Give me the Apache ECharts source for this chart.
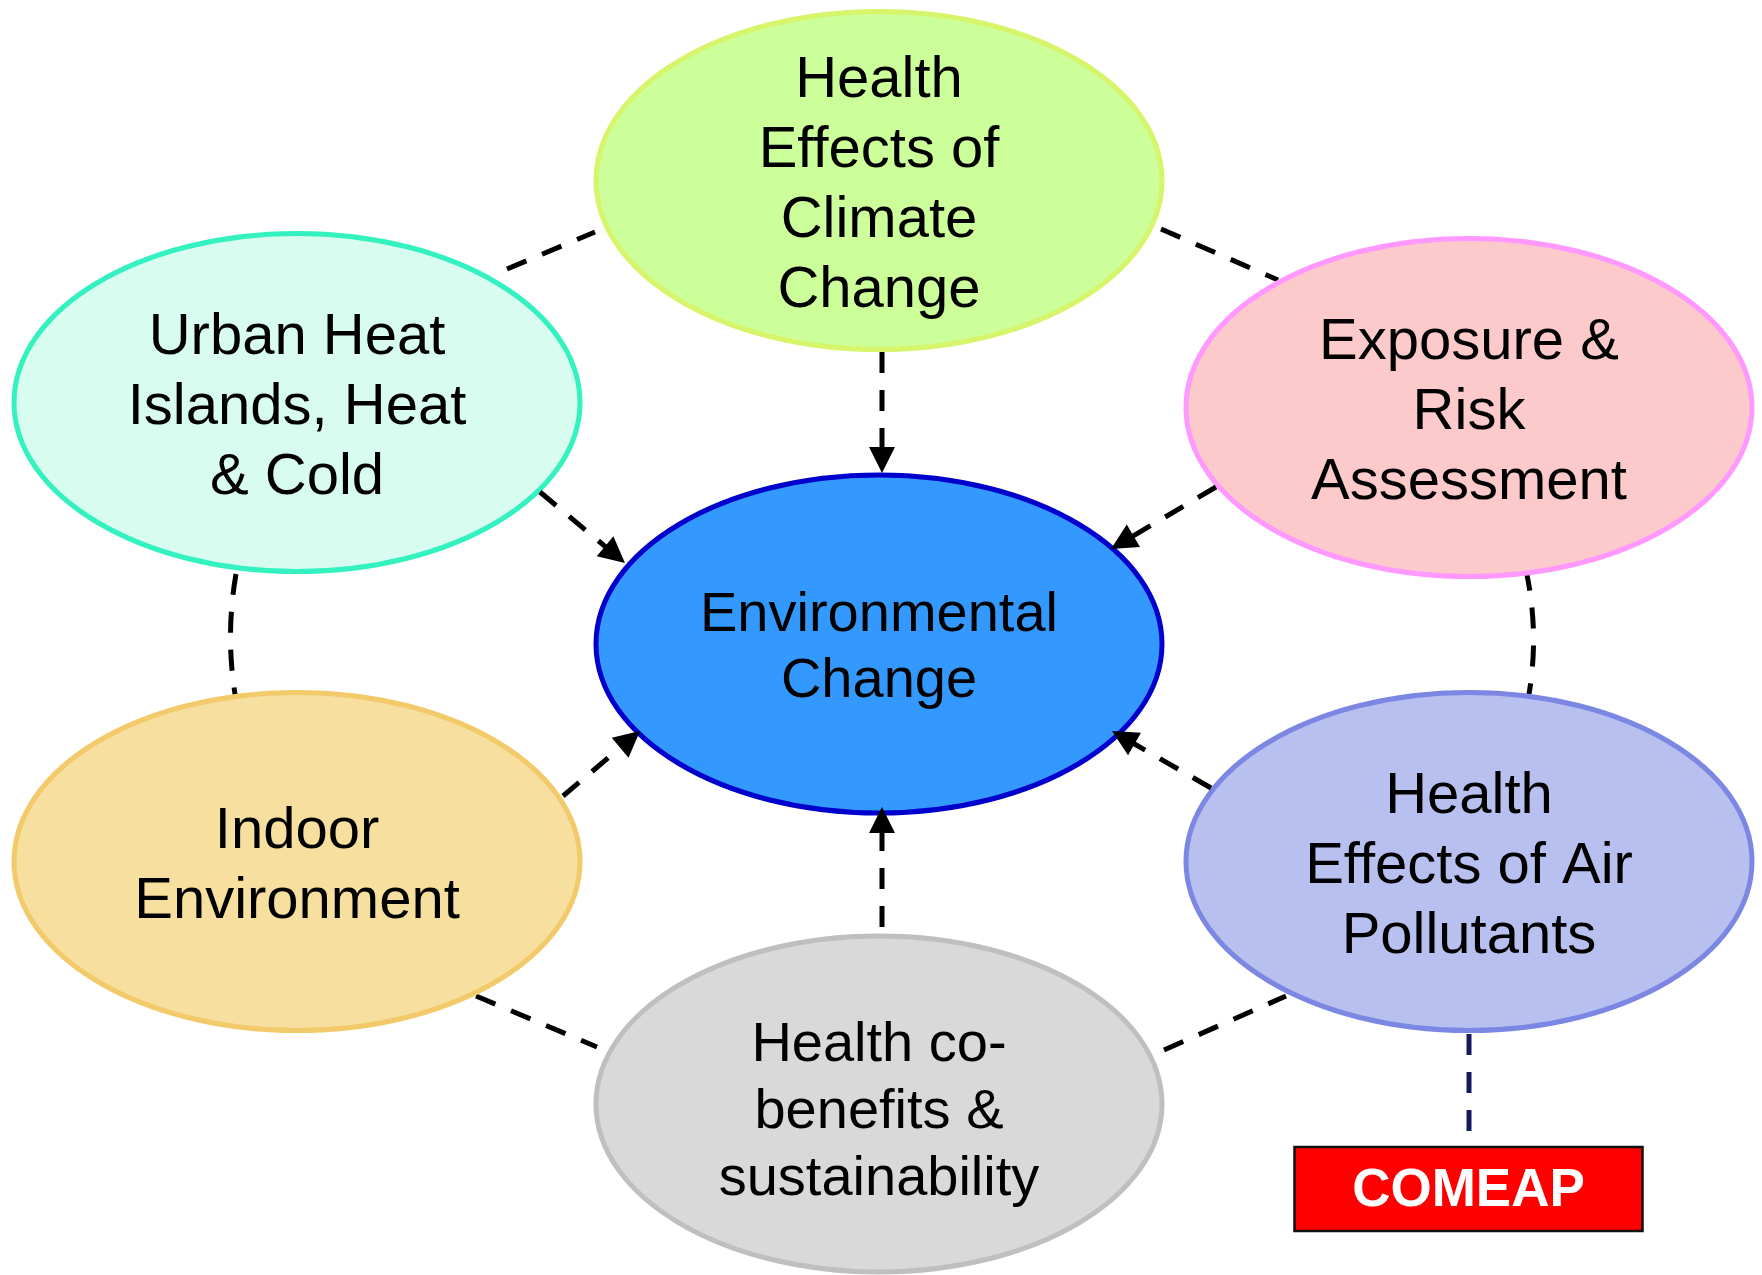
<!DOCTYPE html>
<html>
<head>
<meta charset="utf-8">
<title>Environmental Change</title>
<script src="https://cdn.jsdelivr.net/npm/echarts@6/dist/echarts.min.js"></script>
<style>
  html, body { margin: 0; padding: 0; background: #fff; }
  #chart { width: 1762px; height: 1275px; }
</style>
</head>
<body>
<div id="chart"></div>
<script>
// topics (ellipses) - centres and radii, in px
const nodeNames = [
  'Health\nEffects of\nClimate\nChange',
  'Urban Heat\nIslands, Heat\n& Cold',
  'Exposure &\nRisk\nAssessment',
  'Environmental\nChange',
  'Indoor\nEnvironment',
  'Health\nEffects of Air\nPollutants',
  'Health co-\nbenefits &\nsustainability'
];
const nodeX = [879, 297, 1469, 879, 297, 1469, 879];
const nodeY = [180.5, 402.5, 407.5, 644, 861.5, 861.5, 1104];
const nodeRx = [283, 283, 283, 283, 283, 283, 283];
const nodeRy = [169, 169, 169, 169, 169, 169, 168];

// arrows pointing into the centre
const arrowFrom = [[882, 352], [540, 492], [1216, 487], [563, 796], [1211, 788], [882, 927]];
const arrowTo   = [[882, 473], [625, 563], [1111, 549], [640, 731], [1112, 731], [882, 807]];

// dashed ring between the outer topics (bend = control point, null = straight)
const ringFrom = [[507, 269], [1161, 229], [1526, 570], [236, 574], [476, 996], [1164, 1050]];
const ringTo   = [[595, 232], [1278, 280], [1528, 700], [236, 700], [597, 1047], [1286, 996]];
const ringBend = [null, null, [1540, 635], [225, 637], null, null];

// COMEAP box and its link
const boxLabel = 'COMEAP';
const boxCenter = [1468.5, 1189];
const boxSize = [348, 84];
const boxLinkFrom = [1469, 1034];
const boxLinkTo = [1469, 1146];

// styles
const fills   = ['#CCFF99', '#D9FCF0', '#FCCACA', '#3399FF', '#F7DFA0', '#B8C0F0', '#D9D9D9'];
const strokes = ['#D6F56B', '#33F2C0', '#FF99FF', '#0000CC', '#F2CA6A', '#7C87E4', '#BFBFBF'];
const fontSizes = [58, 58, 58, 56, 58, 58, 56];
const lineHeights = [70, 70, 70, 66, 70, 70, 67];
const textShift = [5, 5, 5, 5, 5, 5, 9];
const FONT = '"Liberation Sans", Arial, Helvetica, sans-serif';
const DASH = [21, 17];

const chart = echarts.init(document.getElementById('chart'));

function ellipseItem(params, api) {
  const i = params.dataIndex;
  const c = api.coord([api.value(0), api.value(1)]);
  const s = api.size([api.value(2), api.value(3)]);
  return {
    type: 'group',
    children: [
      {
        type: 'ellipse',
        shape: { cx: c[0], cy: c[1], rx: s[0], ry: s[1] },
        style: { fill: fills[i], stroke: strokes[i], lineWidth: 5 }
      },
      {
        type: 'text',
        x: c[0],
        y: c[1] + textShift[i],
        style: {
          text: nodeNames[i],
          fill: '#000',
          fontFamily: FONT,
          fontSize: fontSizes[i],
          lineHeight: lineHeights[i],
          align: 'center',
          verticalAlign: 'middle'
        }
      }
    ]
  };
}

function arrowItem(params, api) {
  const i = params.dataIndex;
  const p1 = api.coord(arrowFrom[i]);
  const p2 = api.coord(arrowTo[i]);
  const dx = p2[0] - p1[0], dy = p2[1] - p1[1];
  const len = Math.sqrt(dx * dx + dy * dy);
  const ux = dx / len, uy = dy / len;
  const head = 26, half = 13;
  const bx = p2[0] - ux * head, by = p2[1] - uy * head;
  return {
    type: 'group',
    children: [
      {
        type: 'line',
        shape: { x1: p1[0], y1: p1[1], x2: bx + ux * 2, y2: by + uy * 2 },
        style: { stroke: '#000', lineWidth: 5, lineDash: DASH }
      },
      {
        type: 'polygon',
        shape: { points: [p2, [bx - uy * half, by + ux * half], [bx + uy * half, by - ux * half]] },
        style: { fill: '#000' }
      }
    ]
  };
}

function ringItem(params, api) {
  const i = params.dataIndex;
  const p1 = api.coord(ringFrom[i]);
  const p2 = api.coord(ringTo[i]);
  const style = { stroke: '#000', lineWidth: 5, lineDash: DASH, fill: null };
  if (ringBend[i]) {
    const cp = api.coord(ringBend[i]);
    return {
      type: 'bezierCurve',
      shape: { x1: p1[0], y1: p1[1], x2: p2[0], y2: p2[1], cpx1: cp[0], cpy1: cp[1] },
      style: style
    };
  }
  return { type: 'line', shape: { x1: p1[0], y1: p1[1], x2: p2[0], y2: p2[1] }, style: style };
}

function boxItem(params, api) {
  const a = api.coord(boxLinkFrom);
  const b = api.coord(boxLinkTo);
  const c = api.coord(boxCenter);
  const s = api.size(boxSize);
  return {
    type: 'group',
    children: [
      {
        type: 'line',
        shape: { x1: a[0], y1: a[1], x2: b[0], y2: b[1] },
        style: { stroke: '#141B5C', lineWidth: 5, lineDash: DASH }
      },
      {
        type: 'rect',
        shape: { x: c[0] - s[0] / 2, y: c[1] - s[1] / 2, width: s[0], height: s[1] },
        style: { fill: '#FF0000', stroke: '#111', lineWidth: 2.5 }
      },
      {
        type: 'text',
        x: c[0],
        y: c[1] + 2,
        style: {
          text: boxLabel,
          fill: '#fff',
          fontFamily: FONT,
          fontWeight: 'bold',
          fontSize: 53,
          align: 'center',
          verticalAlign: 'middle'
        }
      }
    ]
  };
}

chart.setOption({
  animation: false,
  backgroundColor: '#fff',
  grid: { left: 0, right: 0, top: 0, bottom: 0 },
  xAxis: { type: 'value', min: 0, max: 1762, show: false },
  yAxis: { type: 'value', min: 0, max: 1275, inverse: true, show: false },
  series: [
    {
      type: 'custom',
      name: 'ring',
      z: 1,
      renderItem: ringItem,
      data: ringFrom.map((p, i) => [p[0], p[1], i])
    },
    {
      type: 'custom',
      name: 'topics',
      z: 2,
      renderItem: ellipseItem,
      data: nodeX.map((x, i) => [x, nodeY[i], nodeRx[i], nodeRy[i]])
    },
    {
      type: 'custom',
      name: 'arrows',
      z: 3,
      renderItem: arrowItem,
      data: arrowFrom.map((p, i) => [p[0], p[1], i])
    },
    {
      type: 'custom',
      name: 'comeap',
      z: 3,
      renderItem: boxItem,
      data: [[boxCenter[0], boxCenter[1]]]
    }
  ]
});
</script>
</body>
</html>
